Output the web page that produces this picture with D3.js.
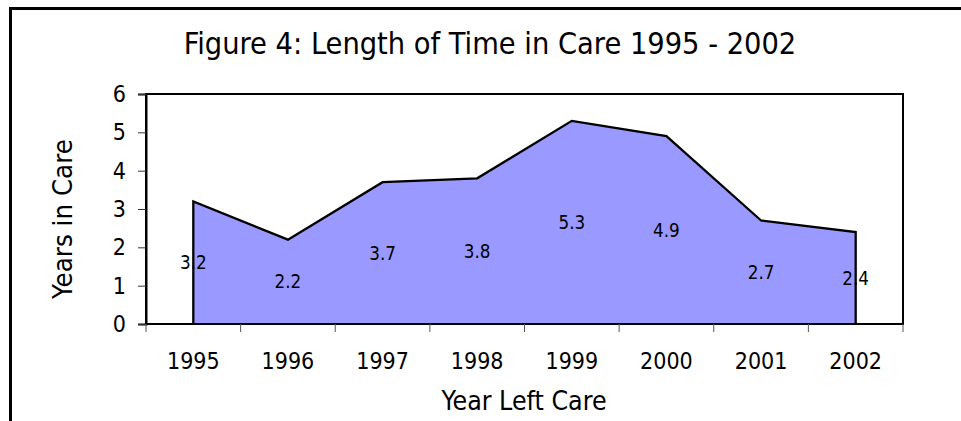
<!DOCTYPE html>
<html>
<head>
<meta charset="utf-8">
<script src="https://cdn.jsdelivr.net/npm/d3@7"></script>
<style>
  body { margin: 0; background: #fff; }
  text { font-family: "DejaVu Sans Condensed", "DejaVu Sans", sans-serif; fill: #000; }
</style>
</head>
<body>
<div id="chart"></div>
<script>
// Data
var years = ["1995", "1996", "1997", "1998", "1999", "2000", "2001", "2002"];
var yearsInCare = [3.2, 2.2, 3.7, 3.8, 5.3, 4.9, 2.7, 2.4];
var yTicks = [0, 1, 2, 3, 4, 5, 6];

var svgWidth = 961;
var svgHeight = 421;
var margin = {top: 94, right: 58, bottom: 97, left: 146};
var width = svgWidth - margin.left - margin.right;
var height = svgHeight - margin.top - margin.bottom;

var data = years.map(function(y, i) { return {year: y, value: yearsInCare[i]}; });

var svg = d3.select("#chart")
  .append("svg")
  .attr("width", svgWidth)
  .attr("height", svgHeight);

// outer frame (runs off the right and bottom of the picture)
svg.append("rect")
  .attr("x", 10.5)
  .attr("y", 8.5)
  .attr("width", 1000)
  .attr("height", 1000)
  .attr("fill", "none")
  .attr("stroke", "#000")
  .attr("stroke-width", 3);

// Title
svg.append("text")
  .attr("x", 490)
  .attr("y", 54)
  .attr("text-anchor", "middle")
  .style("font-size", "30.4px")
  .text("Figure 4: Length of Time in Care 1995 - 2002");

var chartGroup = svg.append("g")
  .attr("transform", "translate(" + margin.left + "," + margin.top + ")");

// Scales
var xBand = d3.scaleBand().domain(years).range([0, width]);
var yLinearScale = d3.scaleLinear().domain([0, 6]).range([height, 0]);

function cx(d) { return xBand(d.year) + xBand.bandwidth() / 2; }

// plot area
chartGroup.append("rect")
  .attr("width", width)
  .attr("height", height)
  .attr("fill", "#fff")
  .attr("stroke", "#000")
  .attr("stroke-width", 2);

// Area
var area = d3.area()
  .x(cx)
  .y0(yLinearScale(0))
  .y1(function(d) { return yLinearScale(d.value); });

chartGroup.append("path")
  .datum(data)
  .attr("d", area)
  .attr("fill", "#9999ff");

// outline: up the first side, along the values, down the last side
var outline = [{year: years[0], value: 0}].concat(data, [{year: years[years.length - 1], value: 0}]);
chartGroup.append("path")
  .datum(outline)
  .attr("d", d3.line().x(cx).y(function(d) { return yLinearScale(d.value); }))
  .attr("fill", "none")
  .attr("stroke", "#000")
  .attr("stroke-width", 2.3)
  .attr("stroke-linejoin", "miter");

// Y axis
var leftAxis = d3.axisLeft(yLinearScale)
  .tickValues(yTicks)
  .tickFormat(d3.format("d"))
  .tickSize(8)
  .tickPadding(12);
var yAxisG = chartGroup.append("g").call(leftAxis);
yAxisG.select(".domain").attr("stroke-width", 2);
yAxisG.selectAll(".tick text").style("font-size", "23px").attr("fill", "#000");
yAxisG.selectAll(".tick line").attr("stroke", "#333");

// X axis: ticks sit on the category boundaries
var xBoundary = d3.scaleLinear().domain([0, years.length]).range([0, width]);
var xAxisG = chartGroup.append("g")
  .attr("transform", "translate(0," + height + ")");
xAxisG.append("line")
  .attr("x1", 0).attr("x2", width)
  .attr("stroke", "#000").attr("stroke-width", 2);
xAxisG.selectAll(".xtick")
  .data(d3.range(years.length + 1))
  .enter()
  .append("line")
  .attr("class", "xtick")
  .attr("x1", function(i) { return xBoundary(i); })
  .attr("x2", function(i) { return xBoundary(i); })
  .attr("y1", 0)
  .attr("y2", 8)
  .attr("stroke", "#555");
xAxisG.selectAll(".xlabel")
  .data(years)
  .enter()
  .append("text")
  .attr("class", "xlabel")
  .attr("x", function(d) { return xBand(d) + xBand.bandwidth() / 2; })
  .attr("y", 45)
  .attr("text-anchor", "middle")
  .style("font-size", "23px")
  .text(function(d) { return d; });

// Data labels at half height
chartGroup.selectAll(".dlabel")
  .data(data)
  .enter()
  .append("text")
  .attr("class", "dlabel")
  .attr("x", cx)
  .attr("y", function(d) { return yLinearScale(d.value / 2); })
  .attr("dy", "0.35em")
  .attr("text-anchor", "middle")
  .style("font-size", "18.7px")
  .text(function(d) { return d.value; });

// Axis titles
svg.append("text")
  .attr("transform", "translate(72,219) rotate(-90)")
  .attr("text-anchor", "middle")
  .style("font-size", "27.4px")
  .text("Years in Care");

svg.append("text")
  .attr("x", 524)
  .attr("y", 410)
  .attr("text-anchor", "middle")
  .style("font-size", "26.5px")
  .text("Year Left Care");
</script>
</body>
</html>
